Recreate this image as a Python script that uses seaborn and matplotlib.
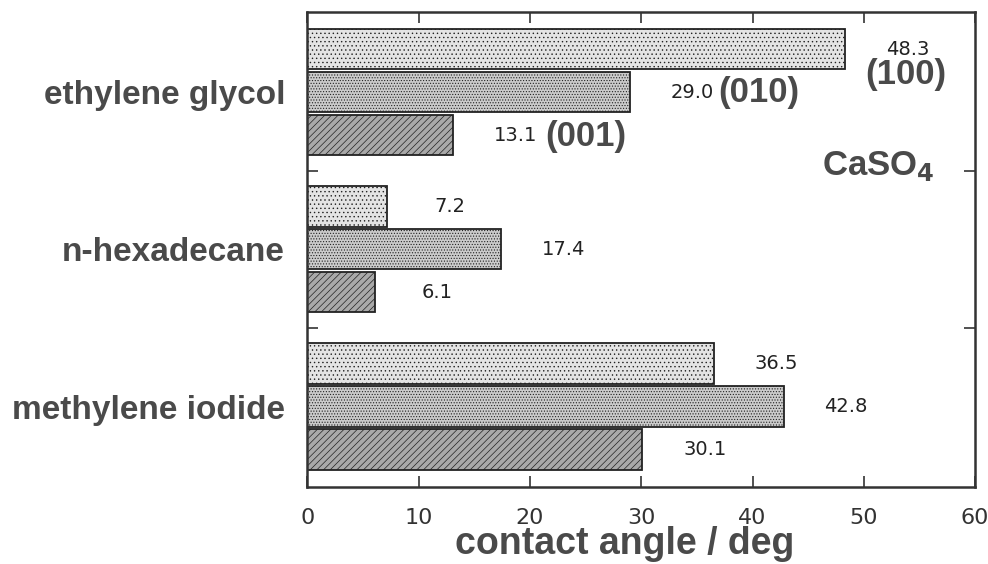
import pandas as pd
import matplotlib
matplotlib.use("Agg")
import matplotlib.pyplot as plt
import seaborn as sns

# --- data ---
liquids = ["ethylene glycol", "n-hexadecane", "methylene iodide"]
faces = ["(100)", "(010)", "(001)"]
angle_100 = [48.3, 7.2, 36.5]
angle_010 = [29.0, 17.4, 42.8]
angle_001 = [13.1, 6.1, 30.1]
x_ticks = [0, 10, 20, 30, 40, 50, 60]

bar_colors = ["#e4e4e4", "#cbcbcb", "#a9a9a9"]
bar_hatches = ["....", "......", "/////"]
ink = "#333333"

rows = []
for face, vals in zip(faces, [angle_100, angle_010, angle_001]):
    for liq, v in zip(liquids, vals):
        rows.append({"liquid": liq, "face": face, "angle": v})
df = pd.DataFrame(rows)

sns.set_style("white")
plt.rcParams["font.family"] = ["Liberation Sans", "DejaVu Sans"]
plt.rcParams["hatch.color"] = "#8f8f8f"
plt.rcParams["hatch.linewidth"] = 0.5

fig = plt.figure(figsize=(9.88, 5.64), dpi=100)
ax = fig.add_axes([0.311, 0.137, 0.676, 0.842])

sns.barplot(data=df, y="liquid", x="angle", hue="face", order=liquids,
            hue_order=faces, orient="h", palette=bar_colors, width=0.82,
            gap=0.06, edgecolor="#222222", linewidth=1.3, legend=False, ax=ax)

# textures + value labels
for cont, hatch in zip(ax.containers, bar_hatches):
    for bar in cont:
        bar.set_hatch(hatch)
        w = bar.get_width()
        yc = bar.get_y() + bar.get_height() / 2
        ax.text(w + 5.6, yc, f"{w:.1f}", ha="center", va="center",
                fontsize=14, color="#222222", family=["DejaVu Sans"])

ax.set_xlim(0, 60)
ax.set_ylim(2.51, -0.51)
ax.set_xticks(x_ticks)
ax.set_xticklabels([str(t) for t in x_ticks], fontsize=16, color="#333333",
                   family=["DejaVu Sans"])
ax.tick_params(axis="x", direction="in", length=8, width=1.2, color=ink,
               top=True, bottom=True, pad=15)
ax.set_yticks([0, 1, 2])
ax.set_yticklabels(liquids, fontsize=24, fontweight="bold", color="#4a4a4a")
ax.tick_params(axis="y", which="major", length=0, pad=16)
ax.set_yticks([0.5, 1.5], minor=True)
ax.tick_params(axis="y", which="minor", direction="in", length=8, width=1.2,
               color=ink, left=True, right=True)
ax.set_ylabel("")
ax.set_xlabel("contact angle / deg", fontsize=27, fontweight="bold",
              color="#4a4a4a")
ax.xaxis.set_label_coords(0.475, -0.083)

for sp in ax.spines.values():
    sp.set_visible(True)
    sp.set_color(ink)
    sp.set_linewidth(1.8)

# crystal face annotations
face_style = dict(fontsize=25, fontweight="bold", color="#4a4a4a",
                  ha="center", va="center")
ax.text(53.8, -0.11, "(100)", **face_style)
ax.text(40.6, 0.0, "(010)", **face_style)
ax.text(25.0, 0.28, "(001)", **face_style)
ax.text(51.3, 0.47, "CaSO$_\\mathbf{4}$", fontsize=25, fontweight="bold",
        color="#4a4a4a", ha="center", va="center")

fig.savefig("out.png", dpi=100)
